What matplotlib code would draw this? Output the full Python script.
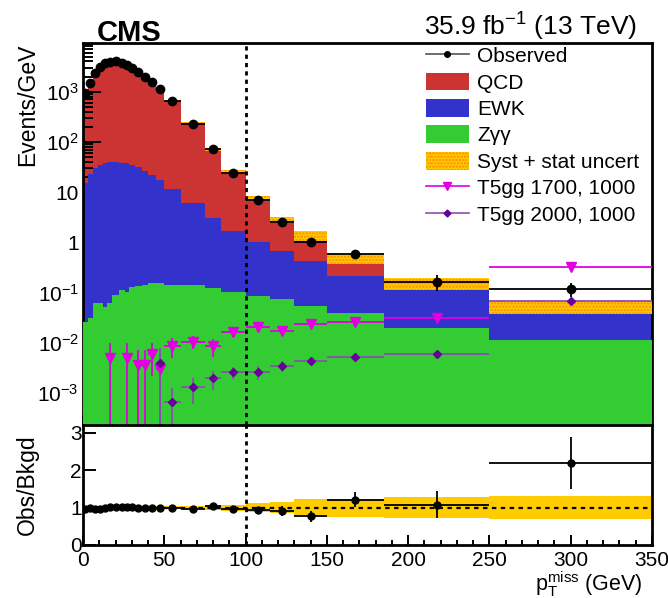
import numpy as np
import matplotlib
matplotlib.use('Agg')
import matplotlib.pyplot as plt
from matplotlib.lines import Line2D
from matplotlib.ticker import FixedLocator, FixedFormatter, MultipleLocator, LogLocator, NullFormatter

plt.rcParams['font.family'] = ['Liberation Sans', 'DejaVu Sans']
plt.rcParams['mathtext.fontset'] = 'custom'
plt.rcParams['mathtext.rm'] = 'Liberation Sans'
plt.rcParams['mathtext.it'] = 'Liberation Sans:italic'
plt.rcParams['mathtext.bf'] = 'Liberation Sans:bold'
plt.rcParams['hatch.linewidth'] = 1.2

# ---------------- data (events / GeV) ----------------
edges = [0, 3, 6, 9, 12, 15, 18, 22, 26, 28, 32, 36, 40, 45, 50, 60, 75, 85, 100,
         115, 130, 150, 185, 250, 350]

obs = [950, 1510, 2390, 3060, 3680, 3960, 4040, 3790, 3400, 3010, 2500, 1990,
       1580, 1130, 653, 228, 73, 24, 6.9, 2.54, 1.03, 0.58, 0.164, 0.117]
obs_err = [20, 25, 30, 35, 40, 40, 40, 40, 45, 40, 35, 30,
           28, 22, 10, 7, 2.8, 1.2, 0.7, 0.35, 0.21, 0.096, 0.055, 0.037]

qcd = [969, 1518, 2447, 3136, 3718, 3882, 4000, 3714, 3329, 2945, 2469, 1983,
       1590, 1136, 655, 231.5, 67.9, 23.3, 6.47, 2.12, 0.935, 0.263, 0.041, 0.016]
ewk = [15.0, 22.9, 29.7, 34.6, 37.4, 39.2, 39.7, 38.4, 37.4, 34.6, 31.1, 26.6,
       21.7, 17.2, 11.3, 5.86, 2.88, 1.60, 0.94, 0.60, 0.365, 0.178, 0.092, 0.026]
zgg = [0.026, 0.031, 0.061, 0.061, 0.052, 0.061, 0.089, 0.112, 0.104, 0.131, 0.137, 0.141,
       0.152, 0.152, 0.141, 0.141, 0.121, 0.104, 0.086, 0.074, 0.055, 0.0385, 0.020, 0.0113]
# relative syst+stat uncertainty on the total background
unc_rel = [0.04, 0.04, 0.04, 0.04, 0.04, 0.04, 0.04, 0.04, 0.04, 0.04, 0.04, 0.04,
           0.04, 0.04, 0.04, 0.05, 0.06, 0.08, 0.12, 0.15, 0.22, 0.24, 0.27, 0.30]

nan = np.nan
sig1 = [nan, nan, nan, nan, nan, 0.0049, nan, nan, 0.0049, nan, 0.0036, 0.0036,
        0.0060, 0.0030, 0.0086, 0.0105, 0.0086, 0.0161, 0.0203, 0.0171, 0.0236, 0.0262, 0.0315, 0.318]
sig1_err = [nan, nan, nan, nan, nan, 0.00489, nan, nan, 0.00489, nan, 0.00359, 0.00359,
            0.0038, 0.00299, 0.0037, 0.0029, 0.0035, 0.0033, 0.0035, 0.0030, 0.0035, 0.0030, 0.0020, 0.030]
sig2 = [nan, nan, nan, nan, nan, nan, nan, nan, nan, nan, nan, nan,
        nan, 0.0039, 0.00065, 0.00129, 0.00195, 0.00257, 0.00257, 0.00344, 0.00427, 0.0053, 0.0059, 0.068]
sig2_err = [nan, nan, nan, nan, nan, nan, nan, nan, nan, nan, nan, nan,
            nan, 0.00385, 0.0006, 0.0007, 0.0008, 0.0007, 0.0008, 0.0008, 0.0007, 0.0005, 0.0004, 0.004]

# ---------------- derived ----------------
edges_a = np.array(edges, float)
centers = 0.5 * (edges_a[1:] + edges_a[:-1])
width = np.diff(edges_a)
hw = width / 2
obs_a = np.array(obs); obs_err_a = np.array(obs_err)
qcd_a, ewk_a, zgg_a = np.array(qcd), np.array(ewk), np.array(zgg)
total = qcd_a + ewk_a + zgg_a
unc_abs = total * np.array(unc_rel)

RED = '#cc3333'
BLUE = '#3333cc'
GREEN = '#33cc33'
YEL = '#ffcc00'
MAG = '#e000e0'
PURP = '#660099'
PURPL = '#8a4fb0'

fig = plt.figure(figsize=(6.68, 5.98), dpi=100)
ax1 = fig.add_axes([83/668, 1-425/598, 569/668, 382/598])
ax2 = fig.add_axes([83/668, 1-545/598, 569/668, 120/598])

base = 1e-7
ax1.stairs(total, edges_a, baseline=base, fill=True, color=RED, zorder=1)
ax1.stairs(zgg_a + ewk_a, edges_a, baseline=base, fill=True, color=BLUE, zorder=2)
ax1.stairs(zgg_a, edges_a, baseline=base, fill=True, color=GREEN, zorder=3)
unc_bars = ax1.bar(edges_a[:-1], 2*unc_abs, width=width, bottom=total-unc_abs, align='edge',
                   facecolor=YEL, edgecolor='#ff8800', hatch='.....', linewidth=0, zorder=4)

ax1.errorbar(centers, sig1, xerr=hw, yerr=sig1_err, fmt='v', color=MAG, ms=7,
             elinewidth=1.3, capsize=0, zorder=5)
ax1.errorbar(centers, sig2, xerr=hw, yerr=sig2_err, fmt='D', color=PURPL,
             mfc=PURP, mec=PURP, ms=4.5, elinewidth=1.3, capsize=0, zorder=5)
ax1.errorbar(centers, obs_a, xerr=hw, yerr=obs_err_a, fmt='o', color='k', ms=6,
             elinewidth=1.3, capsize=0, zorder=6)

ax1.axvline(100, color='k', lw=2.0, ls=(0, (1.5, 1.5)), zorder=8)

ax1.set_yscale('log')
ax1.set_xlim(0, 350)
ax1.set_ylim(2.3e-4, 9.3e3)
ax1.yaxis.set_major_locator(FixedLocator([1e-3, 1e-2, 1e-1, 1, 10, 100, 1000]))
ax1.yaxis.set_major_formatter(FixedFormatter(['10$^{-3}$', '10$^{-2}$', '10$^{-1}$', '1', '10',
                                              '10$^{2}$', '10$^{3}$']))
ax1.yaxis.set_minor_locator(LogLocator(base=10, subs=np.arange(2, 10), numticks=20))
ax1.yaxis.set_minor_formatter(NullFormatter())
ax1.xaxis.set_major_locator(MultipleLocator(50))
ax1.xaxis.set_minor_locator(MultipleLocator(10))
ax1.tick_params(axis='x', which='both', labelbottom=False)
ax1.tick_params(axis='both', which='both', direction='in', width=1.4)
ax1.tick_params(axis='y', which='major', length=13, labelsize=15, pad=3)
ax1.tick_params(axis='y', which='minor', length=7)
ax1.tick_params(axis='x', which='major', length=7)
ax1.tick_params(axis='x', which='minor', length=3.6)

# legend proxies
h_obs = Line2D([], [], color='#555555', lw=1.2, marker='o', ms=4, mfc='k', mec='k')
h_s1 = Line2D([], [], color=MAG, lw=1.2, marker='v', ms=5.5, mfc=MAG, mec=MAG)
h_s2 = Line2D([], [], color=PURPL, lw=1.2, marker='D', ms=3.5, mfc=PURP, mec=PURP)
handles = [h_obs, ax1.patches[0], ax1.patches[1], ax1.patches[2], unc_bars, h_s1, h_s2]
labels = ['Observed', 'QCD', 'EWK', 'Z\u03b3\u03b3', 'Syst + stat uncert',
          'T5gg 1700, 1000', 'T5gg 2000, 1000']
ax1.legend(handles, labels, loc='upper left', bbox_to_anchor=(0.5975, 1.0), frameon=False,
           fontsize=15, borderaxespad=0, borderpad=0.15, labelspacing=0.3,
           handlelength=2.05, handleheight=0.95, handletextpad=0.4)

# ---------------- ratio ----------------
ratio = obs_a / total
ratio_err = obs_err_a / total
ax2.bar(edges_a[:-1], 2*np.array(unc_rel), width=width, bottom=1-np.array(unc_rel),
        align='edge', color=YEL, linewidth=0, zorder=1)
ax2.axhline(1, color='k', lw=1.6, ls=(0, (2, 2)), zorder=2)
ax2.errorbar(centers, ratio, xerr=hw, yerr=ratio_err, fmt='o', color='k', ms=5,
             elinewidth=1.3, capsize=0, zorder=3)
ax2.axvline(100, color='k', lw=2.0, ls=(0, (1.5, 1.5)), zorder=8)
ax2.set_xlim(0, 350)
ax2.set_ylim(0, 3.2)
ax2.yaxis.set_major_locator(FixedLocator([0, 1, 2, 3]))
ax2.xaxis.set_major_locator(MultipleLocator(50))
ax2.xaxis.set_minor_locator(MultipleLocator(10))
ax2.tick_params(axis='both', which='both', direction='in', width=1.4)
ax2.tick_params(axis='y', which='major', length=9.5, labelsize=15, pad=1)
ax2.tick_params(axis='x', which='major', length=7, labelsize=15, pad=4.5)
ax2.tick_params(axis='x', which='minor', length=3.6)

for ax in (ax1, ax2):
    for sp in ax.spines.values():
        sp.set_linewidth(2.0)

fig.text(97/668, 1-41/598, 'CMS', fontsize=21, fontweight='bold', ha='left', va='baseline')
fig.text(637/668, 1-36/598, '35.9 fb$^{-1}$ (13 TeV)', fontsize=19, ha='right', va='baseline')
fig.text(28/668, 1-44/598, 'Events/GeV', fontsize=16.5, rotation=90, ha='center', va='top')
fig.text(27/668, 1-485/598, 'Obs/Bkgd', fontsize=16.5, rotation=90, ha='center', va='center')
fig.text(643/668, 1-591/598, r'$\mathrm{p}_{\mathrm{T}}^{\mathrm{miss}}$ (GeV)', fontsize=15.5,
         ha='right', va='baseline')

fig.savefig('out.png', dpi=100)
